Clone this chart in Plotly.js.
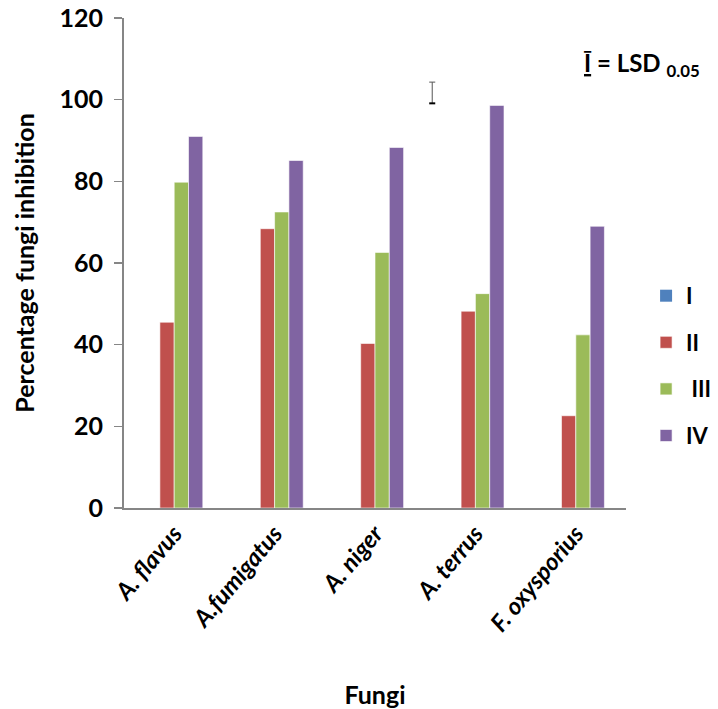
<!DOCTYPE html>
<html><head><meta charset="utf-8">
<script src="https://cdn.plot.ly/plotly-3.0.1.min.js"></script>
<style>body{margin:0;background:#fff}#chart{width:718px;height:709px}</style>
</head><body><div id="chart"></div>
<script>
const fungi = ['A. flavus', 'A.fumigatus', 'A. niger', 'A. terrus', 'F. oxysporius'];
const seriesNames = ['I', 'II', ' III', 'IV'];
const valuesI   = [0, 0, 0, 0, 0];
const valuesII  = [45.5, 68.4, 40.3, 48.2, 22.6];
const valuesIII = [79.8, 72.5, 62.6, 52.5, 42.4];
const valuesIV  = [91.0, 85.1, 88.3, 98.6, 69.0];
const colors = ['#4F81BD', '#C0504D', '#9BBB59', '#8064A2'];
const lsdCenter = 101.7, lsdValue = 5.2;

const all = [valuesI, valuesII, valuesIII, valuesIV];
const font = 'Lato, "Open Sans", sans-serif';
const traces = all.map((v, i) => ({
  type: 'bar', x: fungi, y: v, name: seriesNames[i], legendgroup: 'g' + i,
  marker: {color: colors[i], line: {color: i === 0 ? colors[0] : 'rgba(255,255,255,0.6)', width: i === 0 ? 0 : 1}}
}));

const layout = {
  width: 718, height: 709,
  margin: {l: 124, r: 92, t: 18, b: 201, autoexpand: false},
  paper_bgcolor: '#fff', plot_bgcolor: '#fff',
  barmode: 'group', bargap: 0.43, bargroupgap: 0,
  font: {family: font, color: '#000'},
  showlegend: true,
  legend: {x: 1.04, y: 0.29, xanchor: 'left', yanchor: 'middle', tracegroupgap: 15,
           font: {size: 22, family: font, weight: 'bold'}, itemwidth: 30},
  xaxis: {
    type: 'category', showline: true, linecolor: '#868686', linewidth: 2,
    ticks: '', tickangle: -50,
    tickfont: {size: 24, family: font, weight: 'bold', style: 'italic'},
    title: {text: '<b>Fungi</b>', font: {size: 25, family: font}, standoff: 56}
  },
  yaxis: {
    range: [0, 120], dtick: 20, showgrid: false, zeroline: false,
    showline: true, linecolor: '#868686', linewidth: 2,
    ticks: 'outside', ticklen: 8, tickcolor: '#868686', tickwidth: 1.5,
    ticklabelstandoff: 6,
    tickfont: {size: 25, family: font, weight: 'bold'},
    title: {text: '<b>Percentage fungi inhibition</b>', font: {size: 25, family: font}, standoff: 18}
  },
  shapes: [
    {type: 'line', xref: 'paper', yref: 'y', x0: 0.614, x1: 0.614, y0: lsdCenter - lsdValue/2, y1: lsdCenter + lsdValue/2, line: {color: '#555', width: 1}},
    {type: 'line', xref: 'paper', yref: 'y', x0: 0.608, x1: 0.62, y0: lsdCenter + lsdValue/2, y1: lsdCenter + lsdValue/2, line: {color: '#555', width: 1}},
    {type: 'line', xref: 'paper', yref: 'y', x0: 0.608, x1: 0.62, y0: lsdCenter - lsdValue/2, y1: lsdCenter - lsdValue/2, line: {color: '#000', width: 2}}
  ],
  annotations: [
    {xref: 'paper', yref: 'paper', x: 0.912, y: 0.905, xanchor: 'left', yanchor: 'middle', showarrow: false,
     text: '<b><u>Ī</u> = LSD <sub>0.05</sub></b>', font: {size: 24, family: font}}
  ]
};
Plotly.newPlot('chart', traces, layout, {displayModeBar: false, staticPlot: true});
</script></body></html>
